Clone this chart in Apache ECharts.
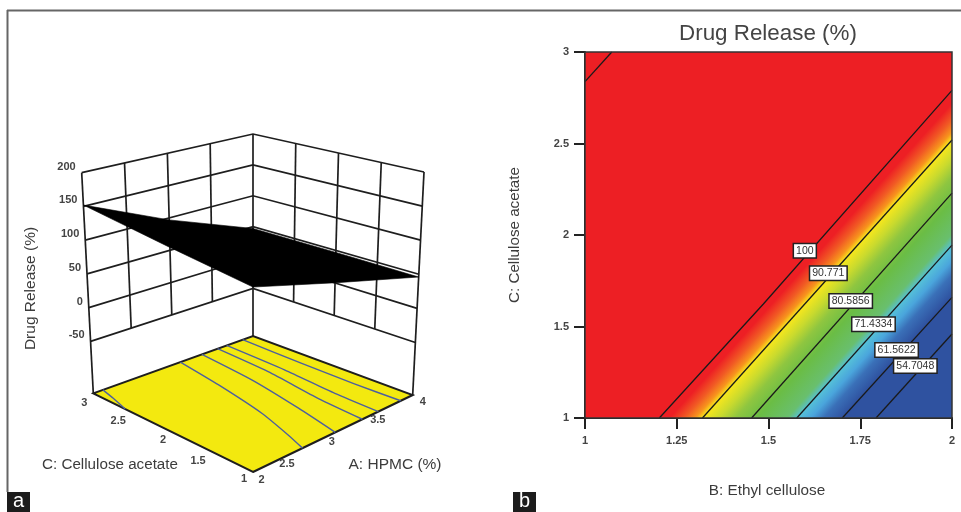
<!DOCTYPE html>
<html>
<head>
<meta charset="utf-8">
<style>html,body{margin:0;padding:0;background:#fff}#c{width:961px;height:512px}</style>
<script src="https://cdn.jsdelivr.net/npm/echarts@6/dist/echarts.min.js"></script>
</head>
<body>
<div id="c"></div>
<script>
// ---------- Panel b: contour plot (B: Ethyl cellulose vs C: Cellulose acetate) ----------
const contourNames = ['100', '90.771', '80.5856', '71.4334', '61.5622', '54.7048'];
const contourLines = [
  [[1.2025, 1], [1.486, 1.623], [2, 2.79]],
  [[1.32, 1], [2, 2.519]],
  [[1.454, 1], [2, 2.229]],
  [[1.577, 1], [2, 1.945]],
  [[1.701, 1], [2, 1.659]],
  [[1.793, 1], [2, 1.459]]
];
const upperContour = [[1, 2.838], [1.073, 3]];
const contourLabelAt = [[1.599, 1.914], [1.663, 1.791], [1.724, 1.639], [1.786, 1.512], [1.849, 1.372], [1.9, 1.284]];
// colour read across the bottom edge (x position at C = 1), bands run parallel to the contours
const bandX = [-1, 1.23, 1.27, 1.30, 1.32, 1.365, 1.41, 1.47, 1.55, 1.58, 1.615, 1.65, 1.70];
const bandColor = ['#ed1f24', '#ed1f24', '#f15a24', '#f7941d', '#f8e71c', '#c9da2e', '#8fc640', '#6abd45', '#69bf6e', '#55c0d8', '#4aa5dc', '#3a70b8', '#2f52a0'];
const bandSlope = 2.235;

// ---------- Panel a: 3D response surface (A: HPMC, C: Cellulose acetate) ----------
const zTicks = [-50, 0, 50, 100, 150, 200];
const aWallTicks = [2.5, 3, 3.5];
const cWallTicks = [1.5, 2, 2.5];
// surface heights around the rim: [A, C, Drug Release]
const surfaceRim = [
  [2, 3, 152], [3, 3, 97], [4, 3, 47],
  [4, 2, 47], [4, 1, 46],
  [3, 1, 86], [2, 1, 125],
  [2, 2, 137]
];
const floorContours = [
  [[2.12, 3], [2.07, 2.82], [2, 2.6]],
  [[3.09, 3], [2.99, 2.42], [2.85, 1.74], [2.71, 1.27], [2.62, 1]],
  [[3.36, 3], [3.28, 2.29], [3.15, 1.58], [3.03, 1]],
  [[3.556, 3], [3.51, 2.32], [3.41, 1.59], [3.37, 1]],
  [[3.67, 3], [3.64, 2.24], [3.585, 1.56], [3.57, 1]],
  [[3.87, 3], [3.85, 2.24], [3.84, 1.57], [3.85, 1]]
];
const aTickLabels = ['2', '2.5', '3', '3.5', '4'];
const cTickLabels = ['3', '2.5', '2', '1.5', '1'];

// view of the box (layout, not data)
const zMin = -127, zMax = 200;
const floorView = { F: [253, 472], R: [412.7, 395], L: [93.3, 393.3], B: [253, 336] };
const topView = { F: [253, 232], R: [424, 172], L: [81.7, 172.7], B: [253, 134] };
function bilin(v, a, c) {
  return [0, 1].map(i => v.F[i] * (1 - a) * (1 - c) + v.R[i] * a * (1 - c) + v.L[i] * (1 - a) * c + v.B[i] * a * c);
}
function project(A, C, z) {
  const a = (A - 2) / 2, c = (C - 1) / 2, t = (z - zMin) / (zMax - zMin);
  const p = bilin(floorView, a, c), q = bilin(topView, a, c);
  return [p[0] + (q[0] - p[0]) * t, p[1] + (q[1] - p[1]) * t];
}
const FONT = '"Liberation Sans", Arial, sans-serif';
const INK = '#3c3c3c';

// wall grid polylines in (A, C, z)
const wallLines = [];
zTicks.forEach(z => wallLines.push([[2, 3, z], [4, 3, z], [4, 1, z]]));
aWallTicks.forEach(A => wallLines.push([[A, 3, -50], [A, 3, zMax]]));
cWallTicks.forEach(C => wallLines.push([[4, C, -50], [4, C, zMax]]));
[[2, 3], [4, 3], [4, 1]].forEach(p => wallLines.push([[p[0], p[1], zMin], [p[0], p[1], zMax]]));

const floorEdge = [[2, 1], [4, 1], [4, 3], [2, 3]];

function scr(api, pts) { return pts.map(p => api.coord(project(p[0], p[1], p[2]))); }
function customOn3D(list, makeEl, z) {
  return {
    type: 'custom', xAxisIndex: 1, yAxisIndex: 1, silent: true, clip: false, z: z,
    data: list.map((_, i) => [i]),
    encode: { x: -1, y: -1 },
    renderItem: (params, api) => makeEl(list[params.dataIndex], api)
  };
}

// text labels of panel a, placed next to the axis positions they name
const zLabelItems = zTicks.map(z => ({ text: String(z), A: 2, C: 3, z: z, dx: -6, dy: -6, align: 'right' }));
const aLabelOffsets = [[8.5, 8], [-6, 11], [-1, 8], [5, 6], [10, 7]];
const aLabelItems = aTickLabels.map((t, i) => ({ text: t, A: +t, C: 1, z: zMin, dx: aLabelOffsets[i][0], dy: aLabelOffsets[i][1], align: 'center' }));
const cLabelOffsets = [[-9, 9.5], [-15, 8], [-10, 7], [-15, 9], [-9, 7]];
const cLabelItems = cTickLabels.map((t, i) => ({ text: t, A: 2, C: +t, z: zMin, dx: cLabelOffsets[i][0], dy: cLabelOffsets[i][1], align: 'center' }));

const chart = echarts.init(document.getElementById('c'), null, { renderer: 'canvas' });
const axisStyle = { lineStyle: { color: '#222', width: 2 } };
chart.setOption({
  animation: false,
  backgroundColor: '#fff',
  title: {
    text: 'Drug Release (%)', left: 679, top: 22.5,
    textStyle: { fontFamily: FONT, fontSize: 22.4, fontWeight: 'normal', color: '#444' },
    padding: 0
  },
  grid: [
    { left: 585, top: 52, width: 367, height: 366, show: true, borderColor: '#333', borderWidth: 1.5, backgroundColor: 'transparent', z: 3 },
    { left: 0, top: 0, width: 961, height: 512, show: false }
  ],
  xAxis: [
    {
      type: 'value', gridIndex: 0, min: 1, max: 2, interval: 0.25, splitLine: { show: false },
      axisLine: axisStyle, axisTick: { show: true, length: 11, lineStyle: { color: '#222', width: 2 } },
      axisLabel: { margin: 17, fontFamily: FONT, fontSize: 11, fontWeight: 'bold', color: '#444', hideOverlap: false, showMinLabel: true, showMaxLabel: true },
      name: 'B: Ethyl cellulose', nameLocation: 'middle', nameGap: 65,
      nameTextStyle: { fontFamily: FONT, fontSize: 15.3, color: INK, fontWeight: 'normal', padding: [0, 3, 0, 0] }
    },
    { type: 'value', gridIndex: 1, min: 0, max: 961, show: false }
  ],
  yAxis: [
    {
      type: 'value', gridIndex: 0, min: 1, max: 3, interval: 0.5, splitLine: { show: false },
      axisLine: axisStyle, axisTick: { show: true, length: 11, lineStyle: { color: '#222', width: 2 } },
      axisLabel: { margin: 16, fontFamily: FONT, fontSize: 11, fontWeight: 'bold', color: '#444', showMinLabel: true, showMaxLabel: true },
      name: 'C: Cellulose acetate', nameLocation: 'middle', nameGap: 63, nameRotate: 90,
      nameTextStyle: { fontFamily: FONT, fontSize: 15.2, color: INK, fontWeight: 'normal' }
    },
    { type: 'value', gridIndex: 1, min: 0, max: 512, inverse: true, show: false }
  ],
  graphic: [
    { type: 'line', shape: { x1: 7, y1: 10.5, x2: 961, y2: 10.5 }, style: { stroke: '#666', lineWidth: 2 }, silent: true },
    { type: 'line', shape: { x1: 7.5, y1: 10, x2: 7.5, y2: 492 }, style: { stroke: '#666', lineWidth: 2 }, silent: true },
    { type: 'rect', shape: { x: 7, y: 492, width: 23, height: 20 }, style: { fill: '#1c1c1c' }, silent: true },
    { type: 'rect', shape: { x: 513, y: 492, width: 23, height: 20 }, style: { fill: '#1c1c1c' }, silent: true },
    { type: 'text', x: 18.5, y: 501, style: { text: 'a', fill: '#fff', font: '20px ' + FONT, textAlign: 'center', textVerticalAlign: 'middle' }, silent: true },
    { type: 'text', x: 524.5, y: 501, style: { text: 'b', fill: '#fff', font: '20px ' + FONT, textAlign: 'center', textVerticalAlign: 'middle' }, silent: true },
    { type: 'text', x: 110, y: 465, style: { text: 'C: Cellulose acetate', fill: INK, font: '15.2px ' + FONT, textAlign: 'center', textVerticalAlign: 'middle' }, silent: true },
    { type: 'text', x: 395, y: 465, style: { text: 'A: HPMC (%)', fill: INK, font: '15.5px ' + FONT, textAlign: 'center', textVerticalAlign: 'middle' }, silent: true },
    { type: 'text', x: 30.5, y: 288.5, rotation: Math.PI / 2, style: { text: 'Drug Release (%)', fill: INK, font: '15.5px ' + FONT, textAlign: 'center', textVerticalAlign: 'middle' }, silent: true }
  ],
  series: [
    // panel b colour bands
    {
      type: 'custom', xAxisIndex: 0, yAxisIndex: 0, clip: true, silent: true, z: 1,
      data: bandX.map((x, i) => [x, i]),
      encode: { x: 0, y: -1 },
      renderItem: (params, api) => {
        const i = params.dataIndex, x0 = bandX[i];
        const x1 = i + 1 < bandX.length ? bandX[i + 1] : x0 + 1;
        const c0 = bandColor[i], c1 = bandColor[Math.min(i + 1, bandColor.length - 1)];
        const run = 2 / bandSlope;
        const pts = [[x0, 1], [x0 + run, 3], [4, 3], [4, 1]].map(p => api.coord(p));
        const a = api.coord([x0, 1]), b = api.coord([x1, 1]), t = api.coord([x0 + run, 3]);
        let ux = t[0] - a[0], uy = t[1] - a[1];
        const len = Math.hypot(ux, uy); ux /= len; uy /= len;
        const nx = -uy, ny = ux, w = (b[0] - a[0]) * nx + (b[1] - a[1]) * ny;
        return {
          type: 'polygon', shape: { points: pts },
          style: {
            fill: new echarts.graphic.LinearGradient(a[0], a[1], a[0] + nx * w, a[1] + ny * w,
              [{ offset: 0, color: c0 }, { offset: 1, color: c1 }], true)
          }
        };
      }
    },
    // panel b contour lines
    ...contourLines.map((line, i) => ({
      type: 'line', xAxisIndex: 0, yAxisIndex: 0, name: contourNames[i], data: line, showSymbol: false,
      silent: true, z: 2, lineStyle: { color: '#1a1a1a', width: 1.3 }
    })),
    {
      type: 'line', xAxisIndex: 0, yAxisIndex: 0, name: '100', data: upperContour, showSymbol: false,
      silent: true, z: 2, lineStyle: { color: '#1a1a1a', width: 1.3 }
    },
    // panel b contour labels
    {
      type: 'scatter', xAxisIndex: 0, yAxisIndex: 0, silent: true, z: 5, symbolSize: 0,
      itemStyle: { opacity: 1 },
      data: contourLabelAt.map((p, i) => ({ value: p, name: contourNames[i] })),
      label: {
        show: true, position: 'inside', formatter: p => p.name, opacity: 1,
        fontFamily: FONT, fontSize: 10.5, color: '#333', backgroundColor: '#fff',
        borderColor: '#222', borderWidth: 1.5, padding: [1.5, 2, 0.5, 2]
      }
    },
    // panel a: walls
    customOn3D(wallLines, (ln, api) => ({
      type: 'polyline', shape: { points: scr(api, ln) }, style: { stroke: '#1e1e1e', lineWidth: 1.7, fill: null }
    }), 1),
    // panel a: floor
    customOn3D([floorEdge], (ln, api) => ({
      type: 'polygon', shape: { points: scr(api, ln.map(p => [p[0], p[1], zMin])) },
      style: { fill: '#f3e90f', stroke: '#1e1e1e', lineWidth: 2 }
    }), 2),
    // panel a: floor contours
    customOn3D(floorContours, (ln, api) => ({
      type: 'polyline', shape: { points: scr(api, ln.map(p => [p[0], p[1], zMin])), smooth: 0.2 },
      style: { stroke: '#4d5f9e', lineWidth: 1.4, fill: null }
    }), 3),
    // panel a: surface
    customOn3D([surfaceRim], (rim, api) => ({
      type: 'polygon', shape: { points: scr(api, rim) }, style: { fill: '#000', stroke: '#000', lineWidth: 0.6 }
    }), 4),
    // panel a: tick labels
    customOn3D(zLabelItems.concat(aLabelItems, cLabelItems), (it, api) => {
      const p = api.coord(project(it.A, it.C, it.z));
      return {
        type: 'text', x: p[0] + it.dx, y: p[1] + it.dy,
        style: { text: it.text, fill: '#444', font: 'bold 11px ' + FONT, textAlign: it.align, textVerticalAlign: 'middle' }
      };
    }, 5)
  ]
});
</script>
</body>
</html>
